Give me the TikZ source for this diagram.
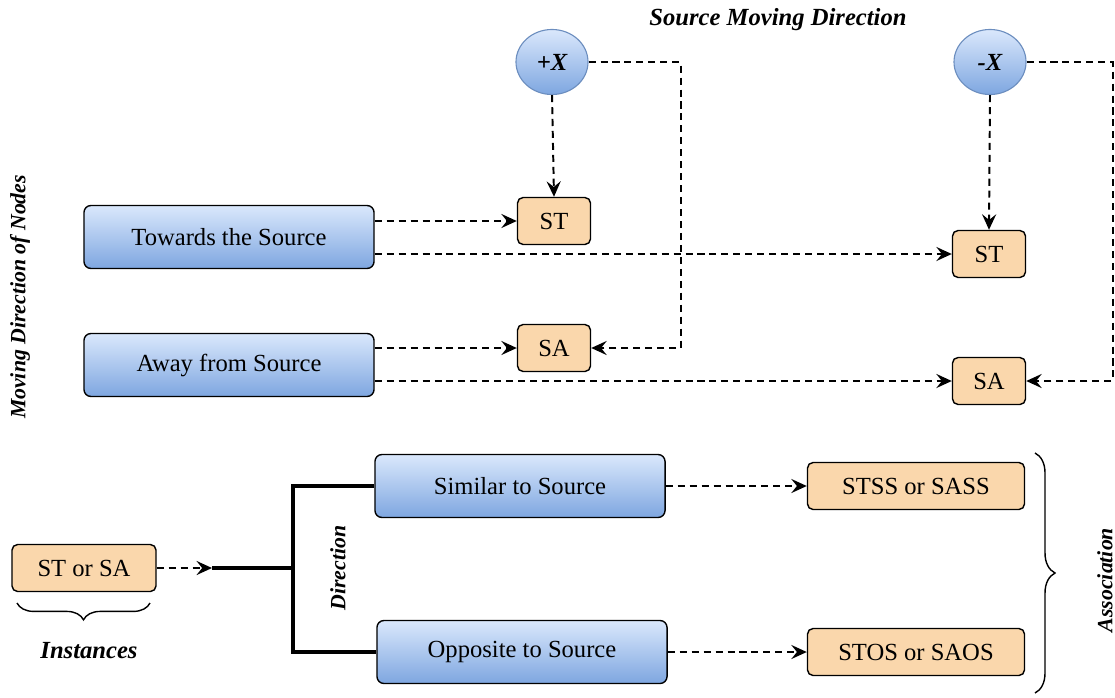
\documentclass[tikz,border=0pt]{standalone}
\usepackage{fontspec}
\setmainfont{Liberation Serif}
\usetikzlibrary{shapes.geometric,decorations.pathreplacing,arrows.meta}

\definecolor{boxblueT}{HTML}{DAE8FC}
\definecolor{boxblueB}{HTML}{7EA6E0}
\definecolor{boxorange}{HTML}{FAD7AC}
\definecolor{circline}{HTML}{6C8EBF}

\begin{document}
\begin{tikzpicture}[x=0.025cm,y=-0.025cm,>=stealth,
		font=\fontsize{17.5}{20}\selectfont,
		bluebox/.style={draw,line width=1pt,rounded corners=5pt,top color=boxblueT,bottom color=boxblueB,
			minimum width=7.25cm,minimum height=1.575cm},
		orangebox/.style={draw,line width=1pt,rounded corners=4pt,fill=boxorange,
			minimum width=1.825cm,minimum height=1.175cm},
		widebox/.style={orangebox,minimum width=5.425cm},
		dircirc/.style={ellipse,draw=circline,line width=0.8pt,top color=boxblueT,bottom color=boxblueB,
			minimum width=1.8cm,minimum height=1.625cm,font=\fontsize{17.5}{20}\selectfont\bfseries\itshape},
		dline/.style={line width=1.4pt,dash pattern=on 5pt off 3.5pt,-{Stealth[length=11pt,width=10pt,inset=4pt]}},
		tline/.style={line width=2.2pt},
		lab/.style={font=\fontsize{15.5}{18}\selectfont\bfseries\itshape}]
	\useasboundingbox (0,0) rectangle (1115,697);

	% Ueberschriften
	\node[font=\fontsize{17.5}{20}\selectfont\bfseries\itshape] (title) at (778,20) {Source Moving Direction};
	\node[lab,rotate=90] (mdn) at (20,297) {Moving Direction of Nodes};

	% Richtung der Quelle
	\node[dircirc] (px) at (552,62) {+X};
	\node[dircirc] (mx) at (990,62) {-X};

	% Bewegung der Knoten
	\node[bluebox] (tow) at (229,237) {Towards the Source};
	\node[bluebox] (awy) at (229,365) {Away from Source};

	% Ergebnisse
	\node[orangebox] (st1) at (554,221) {ST};
	\node[orangebox] (sa1) at (554,348) {SA};
	\node[orangebox] (st2) at (989,254) {ST};
	\node[orangebox] (sa2) at (989,381) {SA};

	% Pfeile oben
	\draw[dline] (tow.east |- st1.west) -- (st1.west);
	\draw[dline] (tow.east |- st2.west) -- (st2.west);
	\draw[dline] (awy.east |- sa1.west) -- (sa1.west);
	\draw[dline] (awy.east |- sa2.west) -- (sa2.west);
	\draw[dline] (px.south) -- (st1.north);
	\draw[dline] (mx.south) -- (st2.north);
	\draw[dline] (px.east) -- ++(92,0) |- (sa1.east);
	\draw[dline] (mx.east) -- ++(86,0) |- (sa2.east);

	% Assoziation unten
	\node[orangebox,minimum width=3.6cm] (stsa) at (84,568) {ST or SA};
	\node[bluebox] (sim) at (520,486) {Similar to Source};
	\node[bluebox] (opp) at (522,652) {Opposite to Source};
	\node[widebox] (stss) at (916,486) {STSS or SASS};
	\node[widebox] (stos) at (916,652) {STOS or SAOS};

	\coordinate (jin) at (212,568);
	\coordinate (junc) at (293,568);
	\draw[dline] (stsa.east) -- (jin);
	\draw[tline] (jin) -- (junc);
	\draw[tline] (sim.west) -| (junc) |- (opp.west);
	\node[lab,rotate=90] (dirl) at (338,568) {Direction};

	\draw[dline] (sim.east) -- (stss.west);
	\draw[dline] (opp.east) -- (stos.west);

	% Klammern
	\coordinate (ibl) at (17,603);
	\coordinate (ibr) at (150,603);
	\draw[line width=1pt,decorate,decoration={brace,amplitude=0.42cm,mirror}] (ibl) -- (ibr);
	\node[font=\fontsize{17.5}{20}\selectfont\bfseries\itshape] (inst) at (89,651) {Instances};

	\coordinate (abt) at (1035,453);
	\coordinate (abb) at (1035,693);
	\draw[line width=1pt,decorate,decoration={brace,amplitude=0.5cm}] (abt) -- (abb);
	\node[lab,rotate=90] (assoc) at (1105,580) {Association};
\end{tikzpicture}
\end{document}
